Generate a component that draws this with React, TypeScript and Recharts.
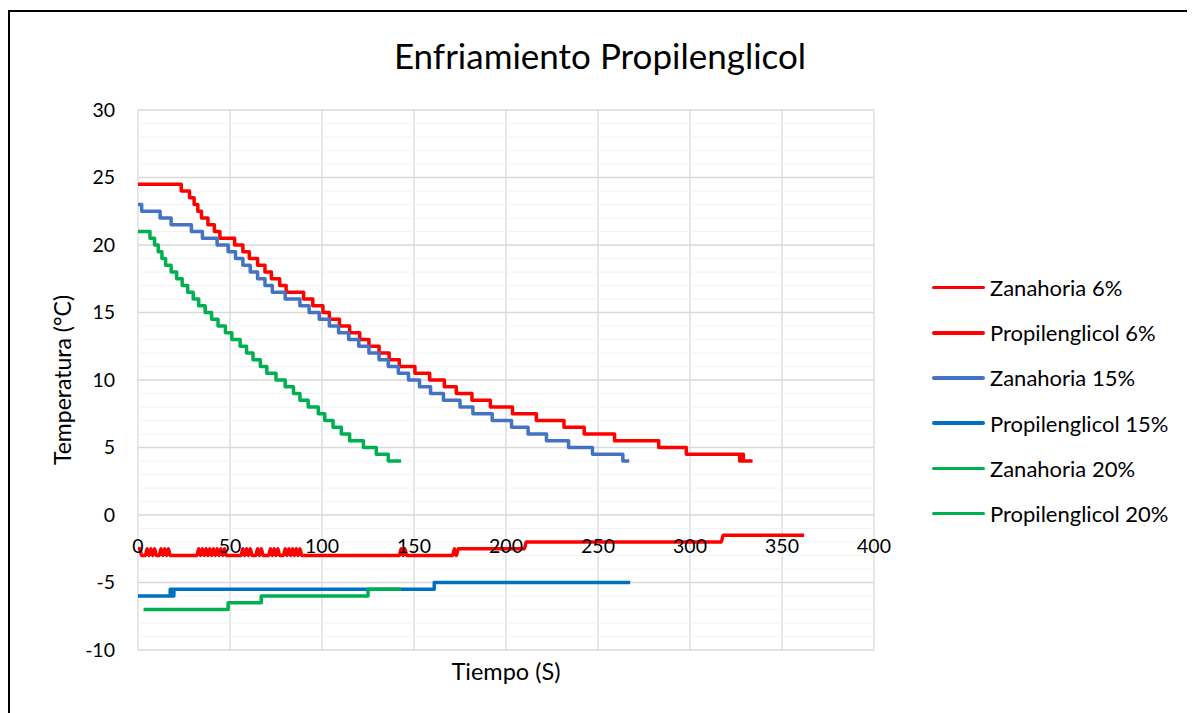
import React from 'react';
import { LineChart, Line, XAxis, YAxis, CartesianGrid, ReferenceLine, Label } from 'recharts';

// Zanahoria 6% (tiempo s, temperatura °C)
const tZ6 = [0, 23.5, 28, 30.5, 32.5, 34.5, 38, 41.5, 44.5, 52.5, 57, 60.5, 65, 69, 72.5, 77, 80.5, 90, 95, 100.5, 104, 109.5, 115, 120.5, 125.5, 131, 136.5, 142, 150.5, 158.5, 166.5, 173, 181.5, 191.5, 203.5, 216.5, 231.5, 242.5, 259, 283, 298, 327, 328, 329, 334];
const vZ6 = [24.5, 24, 23.5, 23, 22.5, 22, 21.5, 21, 20.5, 20, 19.5, 19, 18.5, 18, 17.5, 17, 16.5, 16, 15.5, 15, 14.5, 14, 13.5, 13, 12.5, 12, 11.5, 11, 10.5, 10, 9.5, 9, 8.5, 8, 7.5, 7, 6.5, 6, 5.5, 5, 4.5, 4, 4.5, 4, 4];

// Propilenglicol 6%
const tP6 = [0, 1, 2, 4, 5, 6, 7, 8, 9, 10, 11.5, 12.5, 13.5, 14.5, 15.5, 16.5, 17.5, 32, 33, 34, 35, 36, 37, 38, 39, 40, 41, 42, 43, 44, 45, 46, 47, 48, 56, 57, 58, 59, 60, 61, 62, 64, 65, 66, 67, 68, 71, 72, 73, 74, 75, 76, 77, 79, 80, 81, 82, 83, 84, 85, 86, 87, 88, 89, 142, 143, 144, 145, 146, 171, 172, 173, 174, 210, 211, 317, 318, 362];
const vP6 = [-2.5, -2.5, -3, -3, -2.5, -3, -2.5, -3, -2.5, -3, -3, -2.5, -3, -2.5, -3, -2.5, -3, -3, -2.5, -3, -2.5, -3, -2.5, -3, -2.5, -3, -2.5, -3, -2.5, -3, -2.5, -3, -2.5, -3, -3, -2.5, -3, -2.5, -3, -2.5, -3, -3, -2.5, -3, -2.5, -3, -3, -2.5, -3, -2.5, -3, -2.5, -3, -3, -2.5, -3, -2.5, -3, -2.5, -3, -2.5, -3, -2.5, -3, -3, -2.5, -3, -2.5, -3, -3, -2.5, -3, -2.5, -2.5, -2, -2, -1.5, -1.5];

// Zanahoria 15%
const tZ15 = [0, 2, 12, 18, 29, 35, 43, 49, 53, 57, 61, 65, 69, 73, 80, 88, 93, 98.5, 104, 109, 114.5, 120, 125.5, 131, 136, 141.5, 147, 153, 159, 166, 175, 182, 192.5, 203, 212, 222, 234, 247, 263.5, 267];
const vZ15 = [23, 22.5, 22, 21.5, 21, 20.5, 20, 19.5, 19, 18.5, 18, 17.5, 17, 16.5, 16, 15.5, 15, 14.5, 14, 13.5, 13, 12.5, 12, 11.5, 11, 10.5, 10, 9.5, 9, 8.5, 8, 7.5, 7, 6.5, 6, 5.5, 5, 4.5, 4, 4];

// Propilenglicol 15%
const tP15 = [0, 17.5, 18.5, 19.5, 161, 267.5];
const vP15 = [-6, -5.5, -6, -5.5, -5, -5];

// Zanahoria 20%
const tZ20 = [0, 6.5, 9, 11, 13, 15, 18, 21, 24, 27, 30, 33, 36.5, 40, 43.5, 47.5, 51, 55.5, 59, 62.5, 66.5, 70, 75, 80, 84.5, 88, 92.5, 98, 101.5, 106, 110.5, 115, 122.5, 129.5, 136, 143];
const vZ20 = [21, 20.5, 20, 19.5, 19, 18.5, 18, 17.5, 17, 16.5, 16, 15.5, 15, 14.5, 14, 13.5, 13, 12.5, 12, 11.5, 11, 10.5, 10, 9.5, 9, 8.5, 8, 7.5, 7, 6.5, 6, 5.5, 5, 4.5, 4, 4];

// Propilenglicol 20%
const tP20 = [3, 49, 67, 125, 143];
const vP20 = [-7, -6.5, -6, -5.5, -5.5];

const xTicks = [0, 50, 100, 150, 200, 250, 300, 350, 400];
const yTicks = [-10, -5, 0, 5, 10, 15, 20, 25, 30];
const yMinor = [-9, -8, -7, -6, -4, -3, -2, -1, 1, 2, 3, 4, 6, 7, 8, 9, 11, 12, 13, 14, 16, 17, 18, 19, 21, 22, 23, 24, 26, 27, 28, 29];

const toPoints = (t: number[], v: number[]) => t.map((x, i) => ({ t: x, v: v[i] }));

const series = [
  { name: 'Zanahoria 6%', data: toPoints(tZ6, vZ6), color: '#FF0000', type: 'stepAfter' },
  { name: 'Propilenglicol 6%', data: toPoints(tP6, vP6), color: '#FF0000', type: 'monotone' },
  { name: 'Zanahoria 15%', data: toPoints(tZ15, vZ15), color: '#4472C4', type: 'stepAfter' },
  { name: 'Propilenglicol 15%', data: toPoints(tP15, vP15), color: '#0070C0', type: 'stepAfter' },
  { name: 'Zanahoria 20%', data: toPoints(tZ20, vZ20), color: '#00B050', type: 'stepAfter' },
  { name: 'Propilenglicol 20%', data: toPoints(tP20, vP20), color: '#00B050', type: 'stepAfter' },
];

const FONT = 'Lato, "Liberation Sans", sans-serif';

// x tick labels sit on the y=0 line, like Excel does
const XTick = (props: any) => {
  const { x, y, payload } = props;
  return (
    <text x={x} y={y - 105} textAnchor="middle" dominantBaseline="central" fontSize={19.5} fill="#000" fontFamily={FONT}>
      {payload.value}
    </text>
  );
};

export default function App() {
  return (
    <div
      style={{
        position: 'relative',
        width: 1180,
        height: 720,
        marginTop: 2,
        border: '2px solid #000',
        fontFamily: FONT,
        background: '#fff',
      }}
    >
      <div style={{ position: 'absolute', top: 22, left: 0, width: 1180, textAlign: 'center', fontSize: 35, color: '#000' }}>
        Enfriamiento Propilenglicol
      </div>

      <LineChart width={1180} height={700} margin={{ top: 98, right: 316, bottom: 0, left: 0 }}>
        {yMinor.map((v) => (
          <ReferenceLine key={v} y={v} stroke="#F2F2F2" strokeWidth={1} />
        ))}
        <CartesianGrid stroke="#D9D9D9" strokeWidth={1.3} />
        <YAxis
          type="number"
          domain={[-10, 30]}
          ticks={yTicks}
          interval={0}
          width={128}
          axisLine={false}
          tickLine={false}
          tickSize={0}
          tickMargin={23}
          tick={{ fill: '#000', fontSize: 19.5, fontFamily: FONT }}
        >
          <Label
            value="Temperatura (°C)"
            angle={-90}
            position="insideLeft"
            offset={53}
            style={{ textAnchor: 'middle', fontSize: 23, fill: '#000', fontFamily: FONT }}
          />
        </YAxis>
        {series.map((s) => (
          <Line
            key={s.name}
            data={s.data}
            dataKey="v"
            name={s.name}
            type={s.type as any}
            stroke={s.color}
            strokeWidth={3.5}
            strokeLinejoin="round"
            dot={false}
            activeDot={false}
            isAnimationActive={false}
          />
        ))}
        <XAxis
          type="number"
          dataKey="t"
          domain={[0, 400]}
          ticks={xTicks}
          interval={0}
          height={62}
          axisLine={false}
          tickLine={false}
          tickSize={0}
          tickMargin={0}
          tick={<XTick />}
        >
          <Label
            value="Tiempo (S)"
            position="insideBottom"
            offset={32}
            style={{ fontSize: 23.5, fill: '#000', fontFamily: FONT }}
          />
        </XAxis>
      </LineChart>

      <div style={{ position: 'absolute', left: 922, top: 253 }}>
        {series.map((s) => (
          <div key={s.name} style={{ display: 'flex', alignItems: 'center', height: 45.2 }}>
            <div style={{ width: 53, height: 3.5, background: s.color, borderRadius: 2 }} />
            <span style={{ marginLeft: 5, fontSize: 22, color: '#000', whiteSpace: 'nowrap' }}>{s.name}</span>
          </div>
        ))}
      </div>
    </div>
  );
}
